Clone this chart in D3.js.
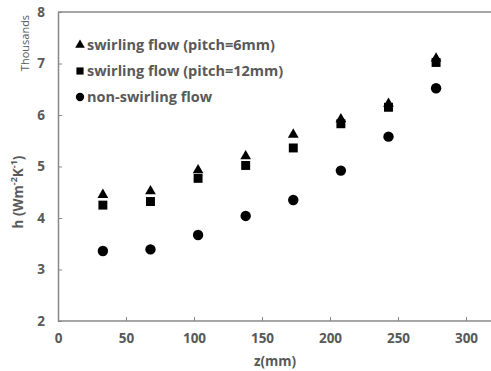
<!DOCTYPE html>
<html>
<head>
<meta charset="utf-8">
<script src="https://cdn.jsdelivr.net/npm/d3@7"></script>
<style>
  body { margin: 0; background: #fff; }
  text { font-family: "Open Sans", sans-serif; fill: #595959; }
</style>
</head>
<body>
<div id="chart"></div>
<script>
// Data
const zValues = [33, 68, 103, 138, 173, 208, 243, 278]
const pitch6 = [4.45, 4.52, 4.93, 5.2, 5.62, 5.92, 6.22, 7.1]
const pitch12 = [4.25, 4.32, 4.77, 5.02, 5.36, 5.83, 6.15, 7.02]
const nonSwirl = [3.36, 3.39, 3.67, 4.04, 4.35, 4.92, 5.58, 6.52]
const xTicks = [0, 50, 100, 150, 200, 250, 300]
const yTicks = [2, 3, 4, 5, 6, 7, 8]
const seriesNames = ['swirling flow (pitch=6mm)', 'swirling flow (pitch=12mm)', 'non-swirling flow']

const dimensions = {
  width: 491,
  height: 371,
  margins: { top: 12, bottom: 50, left: 58, right: 0 }
}
dimensions.ctrWidth = dimensions.width - dimensions.margins.left - dimensions.margins.right
dimensions.ctrHeight = dimensions.height - dimensions.margins.top - dimensions.margins.bottom

const svg = d3.select('#chart')
  .append('svg')
  .attr('width', dimensions.width)
  .attr('height', dimensions.height)

const ctr = svg.append('g')
  .attr('transform', `translate(${dimensions.margins.left}, ${dimensions.margins.top})`)

// Scales
const xScale = d3.scaleLinear()
  .domain([0, 300])
  .range([0, 408])

const yScale = d3.scaleLinear()
  .domain([2, 8])
  .range([dimensions.ctrHeight, 0])

// Top border
ctr.append('line')
  .attr('x1', 0).attr('x2', dimensions.ctrWidth)
  .attr('y1', 0).attr('y2', 0)
  .attr('stroke', '#888').attr('stroke-width', 1.5)

// Axes
const xAxis = d3.axisBottom(xScale)
  .tickValues(xTicks)
  .tickSizeInner(-4)
  .tickSizeOuter(0)
  .tickPadding(12)

const xAxisGroup = ctr.append('g')
  .attr('transform', `translate(0, ${dimensions.ctrHeight})`)
  .call(xAxis)
xAxisGroup.select('.domain').attr('d', `M0,0H${dimensions.ctrWidth}`)

const yAxis = d3.axisLeft(yScale)
  .tickValues(yTicks)
  .tickFormat(d3.format('d'))
  .tickSizeInner(-4)
  .tickSizeOuter(0)
  .tickPadding(13)

const yAxisGroup = ctr.append('g')
  .call(yAxis)

ctr.selectAll('.domain').attr('stroke', '#888').attr('stroke-width', 1.5)
ctr.selectAll('.tick line').attr('stroke', '#888')
ctr.selectAll('.tick text')
  .style('font-size', '13.5px')
  .style('font-weight', 'bold')
  .attr('fill', '#595959')

// Markers
const triangle = d3.symbol().type(d3.symbolTriangle).size(50)
const square = d3.symbol().type(d3.symbolSquare).size(80)
const circle = d3.symbol().type(d3.symbolCircle).size(85)
const shapes = [triangle, square, circle]
const allSeries = [pitch6, pitch12, nonSwirl]

allSeries.forEach((vals, i) => {
  ctr.append('g').selectAll('path')
    .data(vals)
    .join('path')
    .attr('d', shapes[i])
    .attr('transform', (d, j) => `translate(${xScale(zValues[j])}, ${yScale(d)})`)
    .attr('fill', '#000')
})

// Legend
const legend = svg.append('g').attr('transform', 'translate(80, 45)')
seriesNames.forEach((name, i) => {
  const row = legend.append('g').attr('transform', `translate(0, ${i * 26})`)
  row.append('path').attr('d', shapes[i]).attr('fill', '#000')
    .attr('transform', i === 0 ? 'scale(0.9)' : 'scale(0.8)')
  row.append('text')
    .attr('x', 7)
    .attr('dy', '0.35em')
    .style('font-size', '14.5px')
    .style('font-weight', 'bold')
    .text(name)
})

// Axis titles
svg.append('text')
  .attr('transform', 'translate(275, 366)')
  .attr('text-anchor', 'middle')
  .style('font-size', '13.5px')
  .style('font-weight', 'bold')
  .text('z(mm)')

const yTitle = svg.append('text')
  .attr('transform', 'translate(18, 192) rotate(-90)')
  .attr('text-anchor', 'middle')
  .attr('dy', '0.35em')
  .style('font-size', '13.5px')
  .style('font-weight', 'bold')
yTitle.append('tspan').text('h (Wm')
yTitle.append('tspan').attr('baseline-shift', 'super').style('font-size', '9px').text('-2')
yTitle.append('tspan').text('K')
yTitle.append('tspan').attr('baseline-shift', 'super').style('font-size', '9px').text('-1')
yTitle.append('tspan').text(')')

svg.append('text')
  .attr('transform', 'translate(25, 43) rotate(-90)')
  .attr('text-anchor', 'middle')
  .attr('dy', '0.35em')
  .style('font-size', '11px')
  .text('Thousands')
</script>
</body>
</html>
